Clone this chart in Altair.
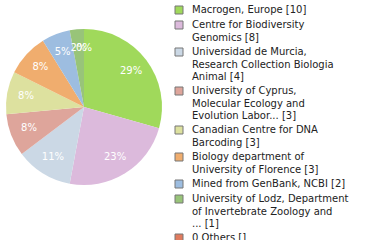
import altair as alt
import pandas as pd

names = [
    "Macrogen, Europe",
    "Centre for Biodiversity|Genomics",
    "Universidad de Murcia,|Research Collection Biologia|Animal",
    "University of Cyprus,|Molecular Ecology and|Evolution Labor...",
    "Canadian Centre for DNA|Barcoding",
    "Biology department of|University of Florence",
    "Mined from GenBank, NCBI",
    "University of Lodz, Department|of Invertebrate Zoology and|...",
    "0 Others",
]
counts = [10, 8, 4, 3, 3, 3, 2, 1, 0]
count_text = ["10", "8", "4", "3", "3", "3", "2", "1", ""]
colors = ["#a0d95b", "#dcbadc", "#cbd8e5", "#dea59b", "#dde19f",
          "#f0ad6e", "#9dbde0", "#98c479", "#e07b5e"]

labels = [f"{n} [{c}]" for n, c in zip(names, count_text)]
df = pd.DataFrame({"label": labels, "value": counts, "idx": list(range(len(labels)))})

base = alt.Chart(df).transform_joinaggregate(
    total="sum(value)"
).transform_calculate(
    pct="floor(datum.value / datum.total * 100) + '%'"
).encode(
    theta=alt.Theta("value:Q", stack=True),
    order=alt.Order("idx:Q", sort="ascending"),
)

arcs = base.mark_arc(outerRadius=78, stroke=None).encode(
    color=alt.Color(
        "label:N",
        scale=alt.Scale(domain=labels, range=colors),
        sort=labels,
        legend=alt.Legend(
            title=None,
            orient="none",
            legendX=174,
            legendY=5,
            padding=0,
            symbolType="square",
            symbolSize=64,
            symbolStrokeColor="#777777",
            symbolStrokeWidth=1,
            labelFont="DejaVu Sans",
            labelFontSize=10,
            labelColor="#222222",
            labelLimit=300,
            labelOffset=8,
            rowPadding=3,
            labelExpr="split(datum.label, '|')",
        ),
    )
)

text = base.mark_text(radius=59, font="DejaVu Sans", fontSize=10, color="white").encode(
    text="pct:N"
)

chart = (arcs + text).properties(
    width=168, height=214, padding=0
).configure_view(stroke=None).configure(
    style={"guide-label": {"lineHeight": 12.5}}
)

chart.save("out.html", embed_options={"renderer": "svg", "actions": False})
